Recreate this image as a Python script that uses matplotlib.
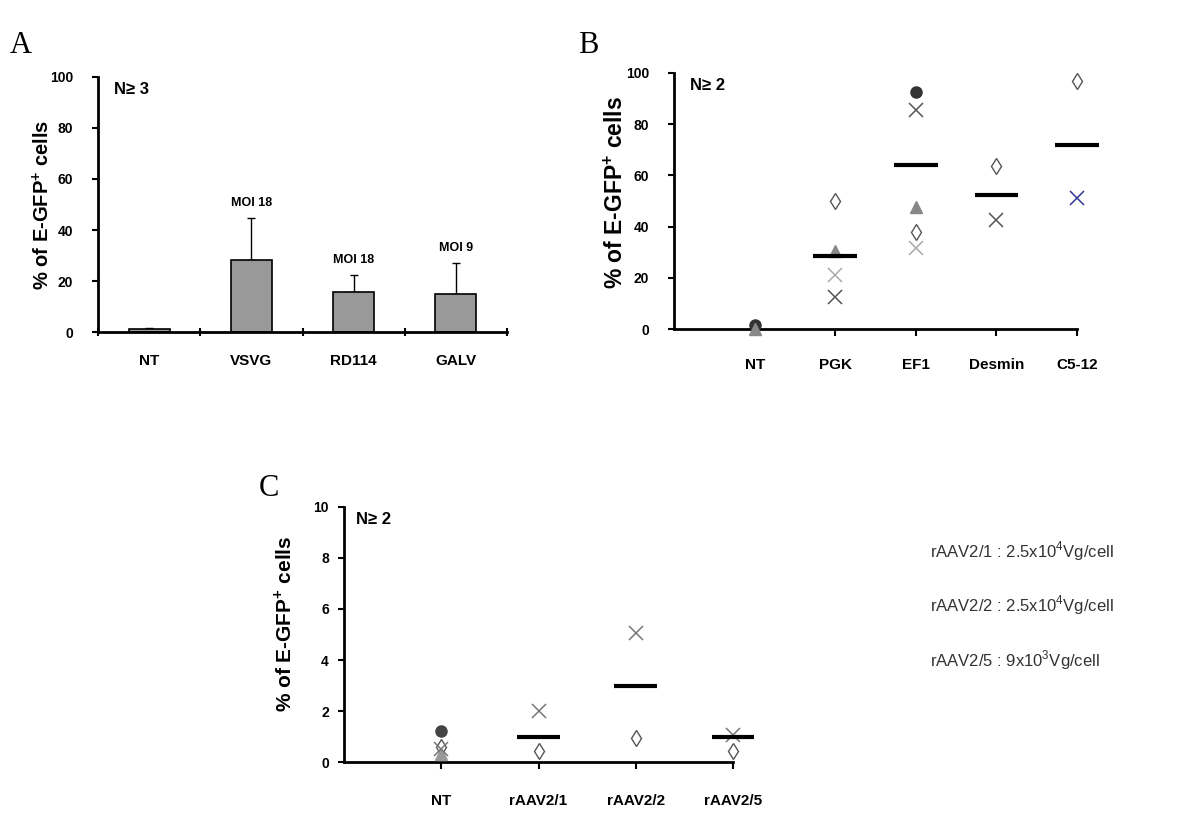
import numpy as np
import matplotlib.pyplot as plt

plt.rcParams['font.family'] = ['Liberation Sans Narrow', 'Liberation Sans', 'DejaVu Sans']
plt.rcParams['mathtext.fontset'] = 'custom'
plt.rcParams['mathtext.bf'] = 'Liberation Sans:bold'
plt.rcParams['mathtext.rm'] = 'Liberation Sans'

nan = np.nan

# panel A : pseudotypes (bars)
env_names = ['NT', 'VSVG', 'RD114', 'GALV']
env_mean = [1.0, 28.2, 15.7, 14.9]
env_err = [0.5, 16.5, 6.7, 12.1]
env_moi = ['', 'MOI 18', 'MOI 18', 'MOI 9']

# panel B : promoters
prom_names = ['NT', 'PGK', 'EF1', 'Desmin', 'C5-12']
prom_circle = [1.5, nan, 92.5, nan, nan]
prom_triangle = [0.0, 30.5, 47.5, nan, nan]
prom_diamond = [nan, 50.0, 38.0, 63.5, 97.0]
prom_xlight = [nan, 21.0, 31.5, nan, nan]
prom_xdark = [nan, 12.5, 85.5, 42.5, nan]
prom_xblue = [nan, nan, nan, nan, 51.0]
prom_mean = [nan, 28.5, 64.0, 52.2, 72.0]

# panel C : rAAV serotypes
aav_names = ['NT', 'rAAV2/1', 'rAAV2/2', 'rAAV2/5']
aav_circle = [1.2, nan, nan, nan]
aav_diamond = [0.6, 0.43, 0.93, 0.43]
aav_triangle = [0.3, nan, nan, nan]
aav_x = [0.5, 2.0, 5.05, 1.05]
aav_mean = [nan, 1.0, 3.0, 1.0]
aav_doses = ['rAAV2/1 : 2.5x10$^{4}$Vg/cell',
             'rAAV2/2 : 2.5x10$^{4}$Vg/cell',
             'rAAV2/5 : 9x10$^{3}$Vg/cell']

ylab = r'% of E-GFP$^{\mathbf{+}}$ cells'

fig = plt.figure(figsize=(12, 8.33), dpi=100)


def style_axes(ax, ytop, ystep, ylabel_size, lab_xy, tpad=14):
    for s in ['top', 'right']:
        ax.spines[s].set_visible(False)
    for s in ['left', 'bottom']:
        ax.spines[s].set_linewidth(2)
    ax.set_ylim(0, ytop)
    ax.set_yticks(np.arange(0, ytop + 0.001, ystep))
    ax.tick_params(axis='y', direction='out', length=4, width=1.5, pad=tpad,
                   labelsize=10)
    for lb in ax.get_yticklabels():
        lb.set_fontweight('bold')
    ax.set_ylabel(ylab, fontsize=ylabel_size, fontweight='bold',
                  family='Liberation Sans')
    ax.yaxis.set_label_coords(*lab_xy)


# ---------- A ----------
axA = fig.add_axes([0.0817, 0.6014, 0.3408, 0.3062])
xa = np.arange(len(env_names)) + 0.5
axA.bar(xa, env_mean, width=0.4, color='#999999', edgecolor='black',
        linewidth=1.2, zorder=2)
axA.errorbar(xa, env_mean, yerr=[np.zeros(len(env_err)), env_err], fmt='none',
             ecolor='black', elinewidth=1, capsize=3, capthick=1, zorder=1)
for x, m, e, t in zip(xa, env_mean, env_err, env_moi):
    axA.text(x, m + e + 3.5, t, ha='center', va='bottom', fontsize=9,
             fontweight='bold')
axA.set_xlim(0, 4)
axA.set_xticks(np.arange(0, 5))
axA.set_xticklabels([])
axA.set_xticks(xa, minor=True)
axA.set_xticklabels(env_names, minor=True, fontsize=11, fontweight='bold')
axA.tick_params(axis='x', which='major', direction='inout', length=6, width=1.5)
axA.tick_params(axis='x', which='minor', length=0, pad=16)
style_axes(axA, 100, 20, 14.5, (-0.108, 0.5))
axA.text(0.04, 0.95, 'N≥ 3', transform=axA.transAxes, fontsize=12,
         fontweight='bold', family='Liberation Sans', va='center')
fig.text(0.008, 0.945, 'A', family='Liberation Serif', fontsize=22, va='center')


def scatter_panel(ax, names, series, means, half):
    x = np.arange(1, len(names) + 1)
    for vals, kw in series:
        ax.plot(x, vals, linestyle='none', clip_on=False, zorder=3, **kw)
    ax.hlines(means, x - half, x + half, colors='black', linewidth=3, zorder=4,
              clip_on=False)
    ax.set_xticks(x)
    ax.set_xticklabels(names, fontsize=11, fontweight='bold')
    ax.tick_params(axis='x', direction='out', length=5, width=1.5, pad=16)


diamond = dict(marker='d', markersize=8, markerfacecolor='white',
               markeredgecolor='#555555', markeredgewidth=1)

# ---------- B ----------
axB = fig.add_axes([0.5617, 0.605, 0.3358, 0.3074])
scatter_panel(axB, prom_names, [
    (prom_circle, dict(marker='o', markersize=8, color='#333333')),
    (prom_triangle, dict(marker='^', markersize=9, color='#888888')),
    (prom_diamond, diamond),
    (prom_xlight, dict(marker='x', markersize=10, color='#aaaaaa', markeredgewidth=1.1)),
    (prom_xdark, dict(marker='x', markersize=10, color='#555555', markeredgewidth=1.1)),
    (prom_xblue, dict(marker='x', markersize=10, color='#333399', markeredgewidth=1.1)),
], prom_mean, 0.27)
axB.set_xlim(0, 5)
style_axes(axB, 100, 20, 16.5, (-0.114, 0.535))
axB.text(0.04, 0.95, 'N≥ 2', transform=axB.transAxes, fontsize=12,
         fontweight='bold', family='Liberation Sans', va='center')
fig.text(0.482, 0.945, 'B', family='Liberation Serif', fontsize=22, va='center')

# ---------- C ----------
axC = fig.add_axes([0.2867, 0.0852, 0.3242, 0.3062])
scatter_panel(axC, aav_names, [
    (aav_circle, dict(marker='o', markersize=8, color='#444444')),
    (aav_diamond, diamond),
    (aav_triangle, dict(marker='^', markersize=8, color='#999999')),
    (aav_x, dict(marker='x', markersize=10, color='#777777', markeredgewidth=1.1)),
], aav_mean, 0.22)
axC.set_xlim(0, 4)
style_axes(axC, 10, 2, 15, (-0.126, 0.54), tpad=7)
axC.tick_params(axis='x', pad=18)
axC.text(0.03, 0.95, 'N≥ 2', transform=axC.transAxes, fontsize=12,
         fontweight='bold', family='Liberation Sans', va='center')
fig.text(0.216, 0.414, 'C', family='Liberation Serif', fontsize=22, va='center')

for i, t in enumerate(aav_doses):
    fig.text(0.775, 0.338 - i * 0.065, t, fontsize=12, color='#333333',
             family='Liberation Sans', va='center')

fig.savefig('out.png', dpi=100)
